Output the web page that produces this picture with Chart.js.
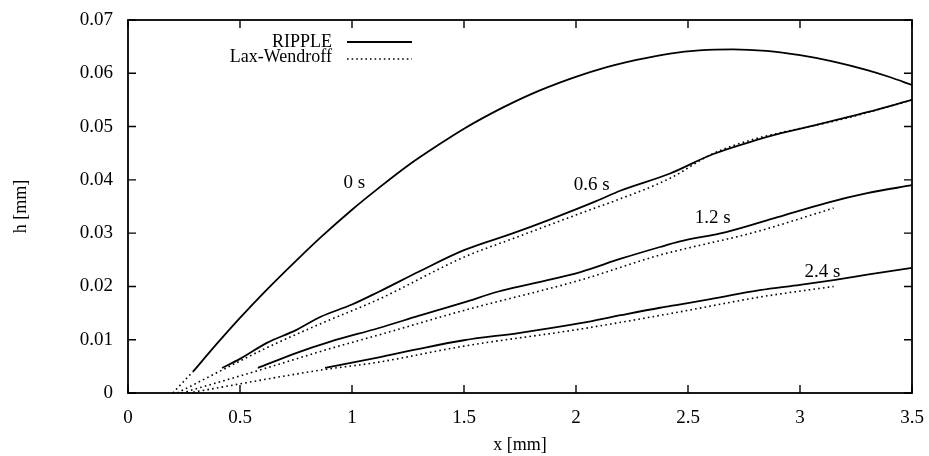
<!DOCTYPE html>
<html>
<head>
<meta charset="utf-8">
<script src="https://cdn.jsdelivr.net/npm/chart.js@4"></script>
<style>
  html, body { margin: 0; padding: 0; background: #fff; }
  #wrap { width: 929px; height: 456px; }
</style>
</head>
<body>
<div id="wrap"><canvas id="waveChart"></canvas></div>
<script>
// RIPPLE (solid) curves
const ripple0x = [0.29, 0.40, 0.5, 0.62, 0.75, 0.86, 1.0, 1.12, 1.25, 1.38, 1.5, 1.67, 1.8, 1.97, 2.1, 2.27, 2.42, 2.55, 2.7, 2.85, 3.0, 3.15, 3.3, 3.4, 3.5];
const ripple0y = [0.0040, 0.0094, 0.0141, 0.0194, 0.0248, 0.0292, 0.0344, 0.0385, 0.0427, 0.0464, 0.0496, 0.0535, 0.0561, 0.0589, 0.0607, 0.0625, 0.0637, 0.0643, 0.0645, 0.0642, 0.0634, 0.0622, 0.0606, 0.0593, 0.0578];

const ripple06x = [0.42, 0.5, 0.62, 0.75, 0.86, 1.0, 1.12, 1.3, 1.5, 1.72, 1.88, 2.09, 2.2, 2.42, 2.61, 2.8, 2.92, 3.1, 3.3, 3.5];
const ripple06y = [0.0047, 0.0064, 0.0094, 0.0118, 0.0143, 0.0166, 0.0190, 0.0228, 0.0268, 0.0300, 0.0325, 0.0360, 0.0380, 0.0412, 0.0448, 0.0474, 0.0488, 0.0506, 0.0527, 0.0550];

const ripple12x = [0.58, 0.75, 0.90, 1.12, 1.3, 1.5, 1.65, 1.8, 2.02, 2.2, 2.375, 2.46, 2.67, 2.9, 3.12, 3.3, 3.5];
const ripple12y = [0.0047, 0.0075, 0.0096, 0.0122, 0.0145, 0.0170, 0.0190, 0.0205, 0.0227, 0.0252, 0.0274, 0.0284, 0.0302, 0.0330, 0.0357, 0.0375, 0.0390];

const ripple24x = [0.88, 1.12, 1.3, 1.5, 1.75, 2.02, 2.2, 2.375, 2.46, 2.6, 2.82, 3.0, 3.15, 3.3, 3.5];
const ripple24y = [0.0047, 0.0067, 0.0083, 0.0099, 0.0113, 0.0131, 0.0146, 0.0160, 0.0166, 0.0176, 0.0193, 0.0203, 0.0212, 0.0222, 0.0235];

// Lax-Wendroff (dotted) curves
const lax0x = [0.20, 0.29];
const lax0y = [0.0, 0.0040];

const lax06x = [0.22, 0.42, 0.62, 0.86, 1.12, 1.5, 1.72, 2.09, 2.17, 2.42, 2.61, 2.8, 2.92, 3.2, 3.5];
const lax06y = [0.0, 0.0043, 0.0085, 0.0130, 0.0176, 0.0255, 0.0290, 0.0348, 0.0360, 0.0403, 0.0449, 0.0477, 0.0489, 0.0515, 0.0550];

const lax12x = [0.24, 0.58, 0.9, 1.12, 1.5, 2.02, 2.375, 2.46, 2.8, 3.15];
const lax12y = [0.0, 0.0042, 0.0083, 0.0109, 0.0155, 0.0212, 0.0259, 0.0268, 0.0302, 0.0347];

const lax24x = [0.27, 0.86, 1.12, 1.5, 2.02, 2.46, 2.82, 3.15];
const lax24y = [0.0, 0.0043, 0.0058, 0.0088, 0.0120, 0.0152, 0.0180, 0.0200];

// curve labels (data coordinates)
const curveLabels = ["0 s", "0.6 s", "1.2 s", "2.4 s"];
const curveLabelX = [1.01, 2.07, 2.61, 3.10];
const curveLabelY = [0.0394, 0.0391, 0.0328, 0.0227];

const legendNames = ["RIPPLE", "Lax-Wendroff"];

const serif = "'Liberation Serif', 'DejaVu Serif', serif";

function pts(xs, ys) {
    return xs.map((x, i) => ({ x: x, y: ys[i] }));
}

function solid(xs, ys) {
    return { data: pts(xs, ys), borderColor: "#000", borderWidth: 1.8, pointRadius: 0, cubicInterpolationMode: "monotone", fill: false };
}

function dotted(xs, ys) {
    return { data: pts(xs, ys), borderColor: "#000", borderWidth: 1.6, borderDash: [1.6, 3.2], pointRadius: 0, cubicInterpolationMode: "monotone", fill: false };
}

// frame, inward ticks, curve labels and legend
const decorPlugin = {
    id: "decor",
    afterDatasetsDraw(chart) {
        const ctx = chart.ctx;
        const a = chart.chartArea;
        const xs = chart.scales.x;
        const ys = chart.scales.y;
        ctx.save();
        ctx.strokeStyle = "#000";
        ctx.lineWidth = 1.8;
        ctx.setLineDash([]);
        ctx.strokeRect(a.left, a.top, a.right - a.left, a.bottom - a.top);

        ctx.lineWidth = 1.4;
        xs.ticks.forEach(t => {
            const px = xs.getPixelForValue(t.value);
            ctx.beginPath();
            ctx.moveTo(px, a.bottom); ctx.lineTo(px, a.bottom - 8);
            ctx.moveTo(px, a.top); ctx.lineTo(px, a.top + 8);
            ctx.stroke();
        });
        ys.ticks.forEach(t => {
            const py = ys.getPixelForValue(t.value);
            ctx.beginPath();
            ctx.moveTo(a.left, py); ctx.lineTo(a.left + 8, py);
            ctx.moveTo(a.right, py); ctx.lineTo(a.right - 8, py);
            ctx.stroke();
        });

        ctx.fillStyle = "#000";
        ctx.font = "19px " + serif;
        ctx.textAlign = "center";
        ctx.textBaseline = "middle";
        curveLabels.forEach((txt, i) => {
            ctx.fillText(txt, xs.getPixelForValue(curveLabelX[i]), ys.getPixelForValue(curveLabelY[i]));
        });

        // legend
        const lx = a.left + 204;
        ctx.font = "18px " + serif;
        ctx.textAlign = "right";
        ctx.fillText(legendNames[0], lx, a.top + 22);
        ctx.fillText(legendNames[1], lx, a.top + 37);
        ctx.lineWidth = 1.8;
        ctx.beginPath();
        ctx.moveTo(lx + 15, a.top + 22); ctx.lineTo(lx + 80, a.top + 22);
        ctx.stroke();
        ctx.lineWidth = 1.4;
        ctx.setLineDash([1.6, 3]);
        ctx.beginPath();
        ctx.moveTo(lx + 15, a.top + 39); ctx.lineTo(lx + 80, a.top + 39);
        ctx.stroke();
        ctx.restore();
    }
};

new Chart(document.getElementById("waveChart"), {
    type: "line",
    data: {
        datasets: [
            solid(ripple0x, ripple0y),
            solid(ripple06x, ripple06y),
            solid(ripple12x, ripple12y),
            solid(ripple24x, ripple24y),
            dotted(lax0x, lax0y),
            dotted(lax06x, lax06y),
            dotted(lax12x, lax12y),
            dotted(lax24x, lax24y)
        ]
    },
    options: {
        responsive: true,
        maintainAspectRatio: false,
        animation: false,
        layout: { padding: { top: 20, right: 17, left: 0, bottom: 0 } },
        plugins: { legend: { display: false }, tooltip: { enabled: false } },
        scales: {
            x: {
                type: "linear",
                min: 0,
                max: 3.5,
                ticks: {
                    stepSize: 0.5, color: "#000", font: { family: serif, size: 19 }, padding: 14, maxRotation: 0,
                    callback: v => String(Math.round(v * 10) / 10)
                },
                grid: { display: false, drawTicks: false },
                border: { display: false },
                title: { display: true, text: "x [mm]", color: "#000", font: { family: serif, size: 18 }, padding: { top: 3, bottom: 0 } },
                afterFit: s => { s.height = 63; s.paddingLeft = 0; s.paddingRight = 0; }
            },
            y: {
                min: 0,
                max: 0.07,
                ticks: {
                    stepSize: 0.01, color: "#000", font: { family: serif, size: 19 }, padding: 15,
                    callback: v => String(Math.round(v * 100) / 100)
                },
                grid: { display: false, drawTicks: false },
                border: { display: false },
                title: { display: true, text: "h [mm]", color: "#000", font: { family: serif, size: 18 }, padding: { top: 10, bottom: 0 } },
                afterFit: s => { s.width = 128; s.paddingTop = 0; s.paddingBottom = 0; }
            }
        }
    },
    plugins: [decorPlugin]
});
</script>
</body>
</html>
